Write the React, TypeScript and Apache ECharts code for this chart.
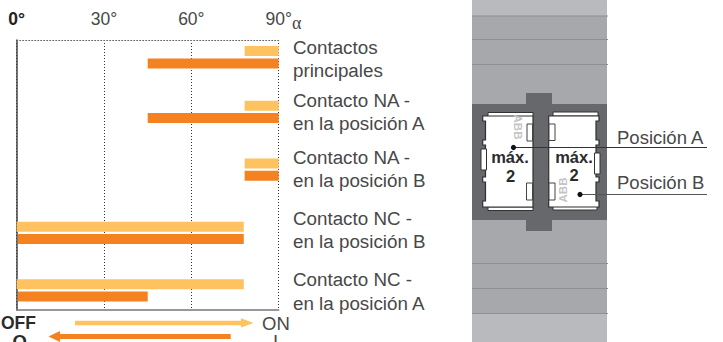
import React, { useEffect, useRef } from "react";
import * as echarts from "echarts";

const rows = [
  "Contactos principales",
  "Contacto NA - en la posición A",
  "Contacto NA - en la posición B",
  "Contacto NC - en la posición B",
  "Contacto NC - en la posición A",
];
const xTicks = [0, 30, 60, 90];
const onStart = [78.3, 78.3, 78.3, 0, 0];
const onEnd = [90, 90, 90, 78, 78];
const offStart = [45, 45, 78.3, 0.4, 0.4];
const offEnd = [90, 90, 90, 78, 45];

const LIGHT = "#fec260";
const DARK = "#f58220";
const TEXT = "#484848";
const FONT = "'Liberation Sans', sans-serif";

// Layout only: the reference's rows are not evenly spaced.
const rowNudge = [-9.8, -9.1, -5.5, 3.9, 7.3];

const barSeries = (starts: number[], ends: number[], color: string, shift: number) => ({
  type: "custom",
  xAxisIndex: 0,
  yAxisIndex: 0,
  clip: false,
  encode: { x: [0, 1], y: 2 },
  data: starts.map((s, i) => [s, ends[i], i]),
  renderItem: (_p: any, api: any) => {
    const a = api.coord([api.value(0), api.value(2)]);
    const b = api.coord([api.value(1), api.value(2)]);
    return {
      type: "rect",
      shape: { x: a[0], y: a[1] + rowNudge[api.value(2)] + shift - 5, width: b[0] - a[0], height: 10 },
      style: { fill: color },
    };
  },
});

const txt = (text: string, x: number, y: number, extra: any = {}, rotation = 0) => ({
  type: "text",
  x,
  y,
  z: 10,
  rotation,
  style: {
    text,
    fontFamily: FONT,
    fontSize: 18.8,
    fill: TEXT,
    textAlign: "left",
    textVerticalAlign: "middle",
    ...extra,
  },
});
const box = (x: number, y: number, w: number, h: number, fill: string, stroke?: string, z = 5) => ({
  type: "rect",
  z,
  shape: { x, y, width: w, height: h },
  style: { fill, stroke: stroke || undefined, lineWidth: stroke ? 1 : 0 },
});
const seg = (x1: number, y1: number, x2: number, y2: number, stroke: string, lineWidth = 1, z = 6) => ({
  type: "line",
  z,
  shape: { x1, y1, x2, y2 },
  style: { stroke, lineWidth },
});
const poly = (points: number[][], fill: string, stroke?: string) => ({
  type: "polygon",
  z: 6,
  shape: { points },
  style: { fill, stroke: stroke || undefined, lineWidth: stroke ? 1.2 : 0 },
});

const leftBody = [
  [482.7, 116], [533, 116], [533, 207], [482.7, 207], [482.7, 201], [485.5, 201], [485.5, 182],
  [482.7, 182], [482.7, 177], [485.5, 177], [485.5, 145], [482.7, 145], [482.7, 140],
  [485.5, 140], [485.5, 121], [482.7, 121],
];
const rightBody = [
  [548.7, 116], [599, 116], [599, 121], [596, 121], [596, 140], [599, 140], [599, 145], [596, 145],
  [596, 177], [599, 177], [599, 182], [596, 182], [596, 201], [599, 201], [599, 207], [548.7, 207],
];

const MAX = { fontSize: 16.5, fontWeight: "bold", fill: "#2b2b2b", textAlign: "center" };
const ABB = { fontSize: 11.5, fontWeight: "bold", fill: "#c4c5c7", textAlign: "center" };

const picture = [
  box(472, 0, 135, 342, "#a7a8ab"),
  box(472, 0, 135, 16, "#b9babe"),
  box(472, 314, 135, 28, "#b9babe"),
  ...[16, 39.5, 64.5, 263.5, 288.5, 313.5].map((y) => seg(472, y, 608, y, "#8e8f92", 1.2)),
  box(472, 104, 135, 116, "#67686b"),
  box(526, 93, 26, 138, "#67686b"),
  box(488, 112.5, 45, 4, "#ffffff", "#333333"),
  box(488, 207, 45, 3.5, "#ffffff", "#333333"),
  box(553, 112, 45, 4, "#ffffff", "#333333"),
  box(553, 206.5, 44, 3.5, "#ffffff", "#333333"),
  poly(leftBody, "#ffffff", "#2f2f2f"),
  poly(rightBody, "#ffffff", "#2f2f2f"),
  box(527, 124, 5.5, 17, "#ffffff", "#444444", 7),
  box(526.5, 183, 6, 17, "#ffffff", "#444444", 7),
  box(481, 149, 5.5, 21, "#ffffff", "#333333", 7),
  box(549, 124, 6, 16.5, "#ffffff", "#444444", 7),
  box(549, 183, 6, 17, "#ffffff", "#444444", 7),
  box(594.5, 153, 5.5, 21, "#ffffff", "#333333", 7),
  txt("ABB", 518, 127, ABB, -Math.PI / 2),
  txt("ABB", 563, 190, ABB, Math.PI / 2),
  txt("máx.", 510, 157, MAX),
  txt("2", 510.5, 176, MAX),
  txt("máx.", 574, 157, MAX),
  txt("2", 574, 175, MAX),
  seg(513.5, 147.5, 707, 147.5, "#333333", 1, 8),
  seg(580, 194.5, 707, 194.5, "#555555", 1, 8),
  { type: "circle", z: 9, shape: { cx: 513.5, cy: 147.5, r: 2.6 }, style: { fill: "#111111" } },
  { type: "circle", z: 9, shape: { cx: 580, cy: 194.5, r: 2.6 }, style: { fill: "#111111" } },
  txt("Posición A", 617, 137.5, { fontSize: 18.5 }),
  txt("Posición B", 617, 182.5, { fontSize: 18.5 }),
];

const rowLabels = [
  ["Contactos", 47], ["principales", 70.5],
  ["Contacto NA -", 100], ["en la posición A", 123],
  ["Contacto NA -", 157], ["en la posición B", 180.5],
  ["Contacto NC -", 218], ["en la posición B", 241.5],
  ["Contacto NC -", 279], ["en la posición A", 303.5],
] as [string, number][];

const furniture = [
  ...rowLabels.map(([t, y]) => txt(t, 293, y)),
  txt("α", 292, 23, { fontFamily: "'Liberation Serif', serif", fontSize: 18 }),
  txt("OFF", 1, 323, { fontSize: 17.5, lineHeight: 16, fontWeight: "bold", fill: "#2a2a2a" }),
  txt("ON", 262, 323, { fontSize: 18.5, lineHeight: 16 }),
  txt("O", 12.5, 341, { fontSize: 18.5, lineHeight: 16, fontWeight: "bold", fill: "#2a2a2a" }),
  txt("I", 273, 341, { fontSize: 18.5, lineHeight: 16 }),
  poly([[75, 320.7], [241, 320.7], [241, 318.2], [253.5, 322.9], [241, 327.6], [241, 325.2], [75, 325.2]], LIGHT),
  poly([[230.7, 334], [60, 334], [60, 331], [48.5, 336.5], [60, 342], [60, 339], [230.7, 339]], DARK),
];

export default function App() {
  const ref = useRef<HTMLDivElement>(null);
  useEffect(() => {
    document.body.style.margin = "0";
    const chart = echarts.init(ref.current!, undefined, { renderer: "svg" });
    chart.setOption({
      animation: false,
      backgroundColor: "#ffffff",
      grid: { left: 16.7, top: 40, width: 262, height: 270, containLabel: false },
      xAxis: [
        {
          type: "value",
          position: "top",
          min: xTicks[0],
          max: xTicks[xTicks.length - 1],
          interval: 30,
          axisLine: { show: true, lineStyle: { color: "#666666", type: [1, 2], width: 1 } },
          axisTick: { show: false },
          axisLabel: {
            margin: 12,
            fontFamily: FONT,
            fontSize: 17.5,
            color: TEXT,
            formatter: (v: number) => (v === 0 ? "{b|0°}" : `${v}°`),
            rich: { b: { fontFamily: FONT, fontSize: 17.5, fontWeight: "bold", color: "#222222" } },
          },
          splitLine: { show: true, lineStyle: { color: "#333333", type: [1, 2], width: 1 } },
        },
        {
          type: "value",
          position: "bottom",
          min: xTicks[0],
          max: xTicks[xTicks.length - 1],
          interval: 30,
          axisLine: { show: true, lineStyle: { color: "#77777a", width: 1.5 } },
          axisTick: { show: false },
          axisLabel: { show: false },
          splitLine: { show: false },
        },
      ],
      yAxis: {
        type: "category",
        inverse: true,
        data: rows,
        position: "left",
        axisLine: { show: true, onZero: false, lineStyle: { color: "#444444", width: 1.5 } },
        axisTick: { show: false },
        axisLabel: { show: false },
        splitLine: { show: false },
      },
      series: [barSeries(onStart, onEnd, LIGHT, -6.1), barSeries(offStart, offEnd, DARK, 6.2)],
      graphic: { elements: [...picture, ...furniture] },
    });
    return () => chart.dispose();
  }, []);
  return <div ref={ref} style={{ position: "absolute", left: 0, top: 0, width: 723, height: 342 }} />;
}
